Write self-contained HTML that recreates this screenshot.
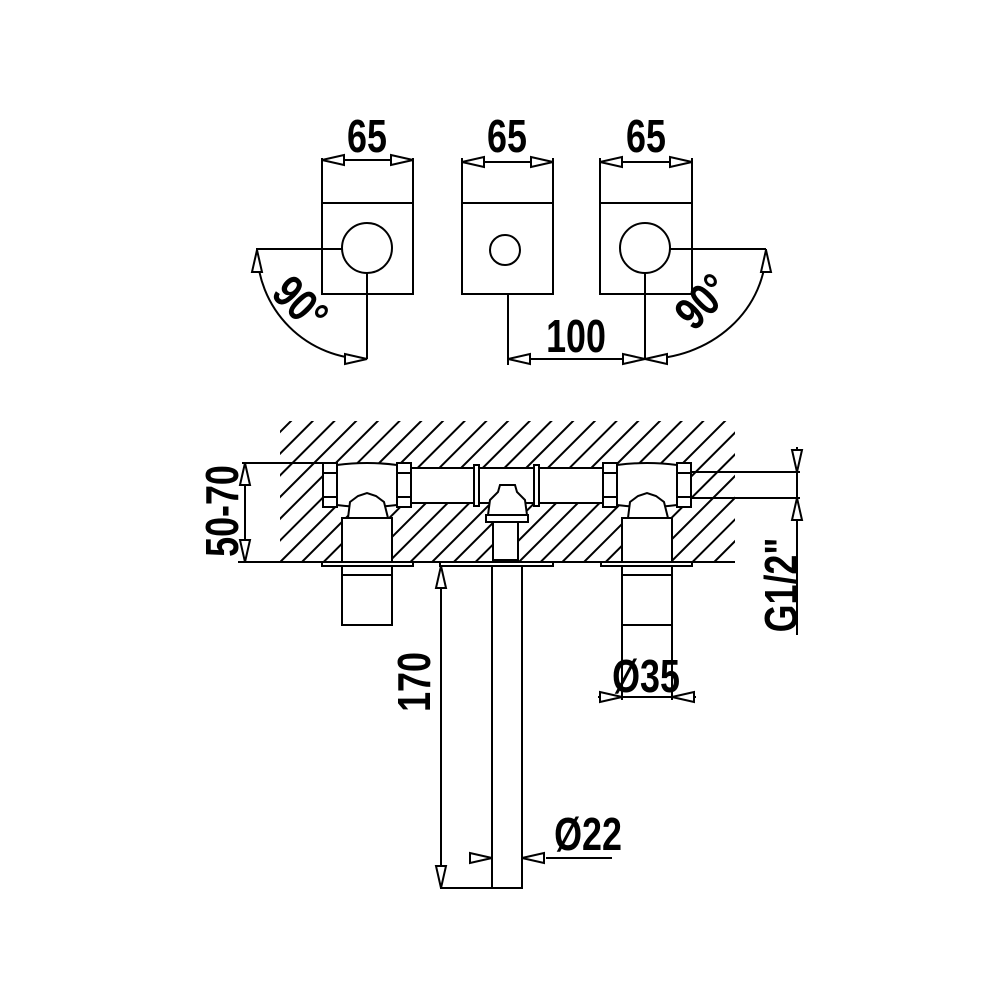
<!DOCTYPE html>
<html><head><meta charset="utf-8"><style>
html,body{margin:0;padding:0;background:#fff;}
svg{display:block;}
text{font-family:"Liberation Sans",sans-serif;fill:#000;font-weight:bold;}
</style></head><body>
<svg width="1000" height="1000" viewBox="0 0 1000 1000" xmlns="http://www.w3.org/2000/svg">
<defs>
<clipPath id="wall"><rect x="280" y="421" width="455" height="141"/></clipPath>
</defs>
<g stroke="#000" stroke-width="2" fill="none">
<g clip-path="url(#wall)">
<path d="M712 0 l-700 700 M733.7 0 l-700 700 M755.4 0 l-700 700 M777.1 0 l-700 700 M798.8 0 l-700 700 M820.5 0 l-700 700 M842.2 0 l-700 700 M863.9 0 l-700 700 M885.6 0 l-700 700 M907.3 0 l-700 700 M929 0 l-700 700 M950.7 0 l-700 700 M972.4 0 l-700 700 M994.1 0 l-700 700 M1015.8 0 l-700 700 M1037.5 0 l-700 700 M1059.2 0 l-700 700 M1080.9 0 l-700 700 M1102.6 0 l-700 700 M1124.3 0 l-700 700 M1146 0 l-700 700 M1167.7 0 l-700 700 M1189.4 0 l-700 700 M1211.1 0 l-700 700 M1232.8 0 l-700 700 M1254.5 0 l-700 700 M1276.2 0 l-700 700 M1297.9 0 l-700 700"/>
</g>
</g>
<g stroke="#000" stroke-width="2" fill="#fff">
<line x1="238" y1="562" x2="735" y2="562"/>
<rect x="411" y="468" width="192" height="35"/>
<rect x="474" y="465" width="5" height="41"/>
<rect x="534" y="465" width="5" height="41"/>
<path d="M337 465 Q367 461 397 465 L397 505 Q367 509 337 505 Z"/>
<rect x="323" y="463" width="14" height="44"/><line x1="323" y1="473" x2="337" y2="473"/><line x1="323" y1="497" x2="337" y2="497"/>
<rect x="397" y="463" width="14" height="44"/><line x1="397" y1="473" x2="411" y2="473"/><line x1="397" y1="497" x2="411" y2="497"/>
<path d="M348 518 L350 502 L358 496 L367 493 L376 496 L384 502 L388 518 Z"/>
<rect x="342" y="518" width="50" height="44"/>
<rect x="322" y="562" width="91" height="4"/>
<rect x="342" y="566" width="50" height="59"/><line x1="342" y1="575" x2="392" y2="575"/>
<path d="M617 465 Q647 461 677 465 L677 505 Q647 509 617 505 Z"/>
<rect x="603" y="463" width="14" height="44"/><line x1="603" y1="473" x2="617" y2="473"/><line x1="603" y1="497" x2="617" y2="497"/>
<rect x="677" y="463" width="14" height="44"/><line x1="677" y1="473" x2="691" y2="473"/><line x1="677" y1="497" x2="691" y2="497"/>
<path d="M628 518 L630 502 L638 496 L647 493 L656 496 L664 502 L668 518 Z"/>
<rect x="622" y="518" width="50" height="44"/>
<rect x="601" y="562" width="91" height="4"/>
<rect x="622" y="566" width="50" height="59"/><line x1="622" y1="575" x2="672" y2="575"/>
<path d="M488 515 L490 500 L498 492 L500 485 L515 485 L517 492 L525 500 L527 515 Z"/>
<rect x="486" y="515" width="42" height="7"/>
<rect x="493" y="522" width="25" height="38"/>
<rect x="440" y="562" width="113" height="4"/>
<rect x="492" y="566" width="30" height="322"/>
</g>
<g stroke="#000" stroke-width="2" fill="none">
<rect x="322" y="203" width="91" height="91"/>
<rect x="462" y="203" width="91" height="91"/>
<rect x="600" y="203" width="92" height="91"/>
<circle cx="367" cy="248" r="25"/>
<circle cx="505" cy="250" r="15"/>
<circle cx="645" cy="248" r="25"/>
<path d="M322 203 V158 M413 203 V158 M322 160 H413"/>
<path d="M462 203 V158 M553 203 V158 M462 162 H553"/>
<path d="M600 203 V158 M692 203 V158 M600 162 H692"/>
<path d="M342 249 H256 M367 273 V359 M257 249 A110 110 0 0 0 367 359"/>
<path d="M670 249 H766 M645 273 V359 M766 249 A121 110 0 0 1 645 359"/>
<path d="M508 294 V365 M508 359 H645"/>
<path d="M242 463 H330 M242 562 H322 M245 463 V562"/>
<path d="M692 472 H800 M692 498 H800 M797 447 V635"/>
<path d="M622 625 V700 M672 625 V700 M598 697 H696"/>
<path d="M441 566 V888 H522"/>
<path d="M546 858 H612"/>
</g>
<g stroke="#000" stroke-width="2" fill="#fff">
<path d="M322 160 l22 -5 v10 z"/><path d="M413 160 l-22 -5 v10 z"/>
<path d="M462 162 l22 -5 v10 z"/><path d="M553 162 l-22 -5 v10 z"/>
<path d="M600 162 l22 -5 v10 z"/><path d="M692 162 l-22 -5 v10 z"/>
<path d="M257 250 l-5 22 h10 z"/><path d="M367 359 l-22 -5 v10 z"/>
<path d="M766 250 l-5 22 h10 z"/><path d="M645 359 l22 -5 v10 z"/>
<path d="M508 359 l22 -5 v10 z"/><path d="M645 359 l-22 -5 v10 z"/>
<path d="M245 463 l-5 22 h10 z"/><path d="M245 562 l-5 -22 h10 z"/>
<path d="M797 472 l-5 -22 h10 z"/><path d="M797 498 l-5 22 h10 z"/>
<path d="M622 697 l-22 -5 v10 z"/><path d="M672 697 l22 -5 v10 z"/>
<path d="M441 566 l-5 22 h10 z"/><path d="M441 888 l-5 -22 h10 z"/>
<path d="M492 858 l-22 -5 v10 z"/><path d="M522 858 l22 -5 v10 z"/>
</g>
<g font-size="46">
<text x="367" y="152" text-anchor="middle" transform="translate(367 0) scale(0.78 1) translate(-367 0)">65</text>
<text x="507" y="152" text-anchor="middle" transform="translate(507 0) scale(0.78 1) translate(-507 0)">65</text>
<text x="646" y="152" text-anchor="middle" transform="translate(646 0) scale(0.78 1) translate(-646 0)">65</text>
<text x="576" y="352" text-anchor="middle" transform="translate(576 0) scale(0.78 1) translate(-576 0)">100</text>
<text x="646" y="692" text-anchor="middle" transform="translate(646 0) scale(0.78 1) translate(-646 0)">Ø35</text>
<text x="588" y="850" text-anchor="middle" transform="translate(588 0) scale(0.78 1) translate(-588 0)">Ø22</text>
<text transform="translate(238 511) rotate(-90) scale(0.78 1)" text-anchor="middle">50-70</text>
<text transform="translate(430 682) rotate(-90) scale(0.78 1)" text-anchor="middle">170</text>
<text transform="translate(797 585) rotate(-90) scale(0.78 1)" text-anchor="middle">G1/2"</text>
<text transform="translate(300 304) rotate(45) scale(0.8 1)" text-anchor="middle" dy="15">90°</text>
<text transform="translate(703 302) rotate(-45) scale(0.8 1)" text-anchor="middle" dy="15">90°</text>
</g>
</svg>
</body></html>
